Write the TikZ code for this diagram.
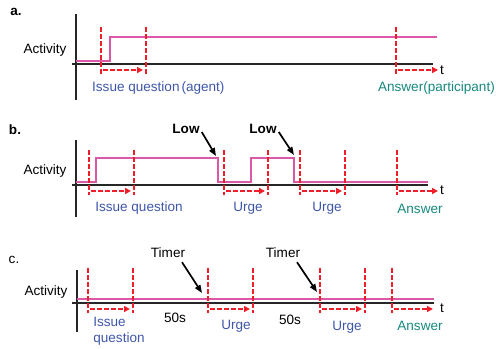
\documentclass[tikz,border=0pt]{standalone}
\usepackage{fontspec}
\setmainfont{Liberation Sans}
\usetikzlibrary{arrows.meta}
\definecolor{actpink}{RGB}{218,88,165}
\definecolor{markred}{RGB}{240,30,40}
\definecolor{lblblue}{RGB}{62,86,170}
\definecolor{lblteal}{RGB}{22,136,126}
\newcommand{\lblsize}{\fontsize{13.6}{16}\selectfont}
\begin{document}
\begin{tikzpicture}[x=1bp,y=-1bp,
  font=\lblsize,
  axis/.style={line width=1.4bp, black!85},
  activity/.style={line width=2bp, actpink},
  marker/.style={markred, line width=2.1bp, dash pattern=on 4.5bp off 2.5bp},
  span/.style={marker, -{Triangle[length=6bp,width=6bp]}},
  pointer/.style={line width=1.7bp, black, -{Triangle[length=8bp,width=6bp]}},
  phase/.style={text=lblblue, inner sep=0pt},
  reply/.style={text=lblteal, inner sep=0pt},
  plain/.style={inner sep=0pt}]
\useasboundingbox (0,0) rectangle (496,348);

% ---------- panel a ----------
\node[plain, font=\lblsize\bfseries] (la) at (16,12) {a.};
\node[plain] (ya) at (45,50) {Activity};
\draw[axis] (76,14) -- (76,100);
\draw[axis] (72,64) -- (433,64);
\node[plain] (ta) at (442,70) {t};
\draw[activity] (76,61) -- (110,61) -- (110,37) -- (437,37);
\draw[marker] (101,27) -- (101,74);
\draw[marker] (146,27) -- (146,74);
\draw[marker] (396,27) -- (396,74);
\draw[span] (103,70) -- (143,70);
\draw[span] (398,70) -- (438,70);
\node[phase, anchor=west] (qa) at (92,88) {Issue question\hspace{2bp}(agent)};
\node[reply, anchor=east] (aa) at (495,88) {Answer(participant)};

% ---------- panel b ----------
\node[plain, font=\lblsize\bfseries] (lb) at (15,130) {b.};
\node[plain] (yb) at (45,171) {Activity};
\draw[axis] (76,140) -- (76,217);
\draw[axis] (72,185) -- (428,185);
\node[plain] (tb) at (442,190) {t};
\draw[activity] (76,182) -- (96,182) -- (96,158) -- (218,158) -- (218,182)
  -- (251,182) -- (251,158) -- (294,158) -- (294,182) -- (428,182);
\foreach \x in {89,134,224,268,300,345,397}
  \draw[marker] (\x,150) -- (\x,195);
\draw[span] (91,191) -- (131,191);
\draw[span] (226,191) -- (265,191);
\draw[span] (302,191) -- (342,191);
\draw[span] (399,191) -- (438,191);
\node[plain, font=\lblsize\bfseries] (low1) at (186,129) {Low};
\node[plain, font=\lblsize\bfseries] (low2) at (263,129) {Low};
\coordinate (low1tip) at (216,156);
\coordinate (low2tip) at (294,155);
\draw[pointer] (low1.east) ++(2,3) -- (low1tip);
\draw[pointer] (low2.east) ++(2,3) -- (low2tip);
\node[phase] (qb) at (139,208) {Issue question};
\node[phase] (ub1) at (248,208) {Urge};
\node[phase] (ub2) at (327,208) {Urge};
\node[reply] (ab) at (420,209) {Answer};

% ---------- panel c ----------
\node[plain] (lc) at (14,260) {c.};
\node[plain] (yc) at (46,292) {Activity};
\draw[axis] (77,270) -- (77,332);
\draw[axis] (72,303) -- (434,303);
\node[plain] (tc) at (442,308) {t};
\draw[activity] (77,299) -- (434,299);
\foreach \x in {88,133,208,253,320,365,392}
  \draw[marker] (\x,268) -- (\x,313);
\draw[span] (90,309) -- (130,309);
\draw[span] (210,309) -- (250,309);
\draw[span] (322,309) -- (362,309);
\draw[span] (394,309) -- (433,309);
\node[plain] (tm1) at (168,253) {Timer};
\node[plain] (tm2) at (283,253) {Timer};
\coordinate (tm1tip) at (202,293);
\coordinate (tm2tip) at (317,292);
\draw[pointer] (tm1.south) ++(14,4) -- (tm1tip);
\draw[pointer] (tm2.south) ++(14,4) -- (tm2tip);
\node[plain] (s1) at (175,318) {50s};
\node[plain] (s2) at (290,320) {50s};
\node[phase, align=left] (qc) at (119,331) {Issue\\question};
\node[phase] (uc1) at (236,326) {Urge};
\node[phase] (uc2) at (347,327) {Urge};
\node[reply] (ac) at (420,326) {Answer};
\end{tikzpicture}
\end{document}
